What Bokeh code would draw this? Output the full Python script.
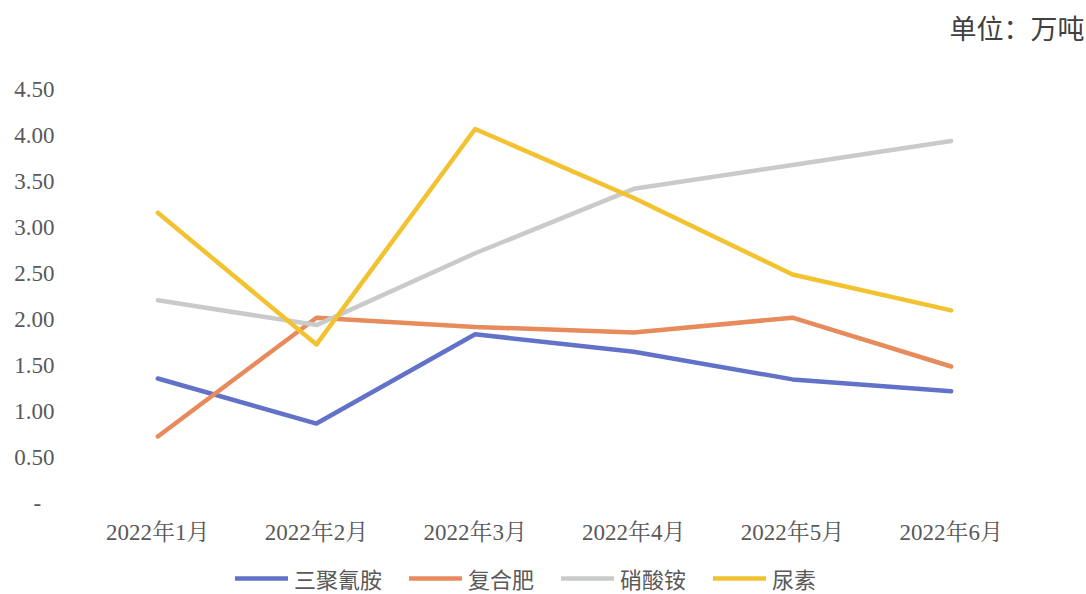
from bokeh.plotting import figure
from bokeh.models import FactorRange, Range1d, FixedTicker, Legend, LegendItem, Title
from bokeh.embed import file_html
from bokeh.resources import INLINE

months = ["2022年1月", "2022年2月", "2022年3月", "2022年4月", "2022年5月", "2022年6月"]
melamine = [1.36, 0.87, 1.84, 1.65, 1.35, 1.22]      # 三聚氰胺
compound = [0.73, 2.02, 1.92, 1.86, 2.02, 1.49]      # 复合肥
ammonium_nitrate = [2.21, 1.94, 2.72, 3.42, 3.68, 3.94]  # 硝酸铵
urea = [3.16, 1.73, 4.07, 3.32, 2.49, 2.10]          # 尿素
series_names = ["三聚氰胺", "复合肥", "硝酸铵", "尿素"]
y_ticks = [0, 0.5, 1.0, 1.5, 2.0, 2.5, 3.0, 3.5, 4.0, 4.5]
unit_text = "单位：万吨"

colors = ["#6272C8", "#E88B5C", "#C9CACA", "#F2C230"]

# frame spans from y=50px to the bottom of the canvas; 4.5 sits at 88px, 0 at 503px
px_per_unit = (503 - 88) / 4.5
y_end = 4.5 + (88 - 50) / px_per_unit
y_start = -(594 - 503) / px_per_unit

p = figure(width=1086, height=594, x_range=FactorRange(*months, range_padding=0),
           y_range=Range1d(y_start, y_end), output_backend="svg", toolbar_location=None,
           min_border_left=78, min_border_right=56, min_border_top=50, min_border_bottom=0)
p.outline_line_color = None
p.xgrid.grid_line_color = None
p.ygrid.grid_line_color = None

serif = "Liberation Serif"
for ax in (p.xaxis, p.yaxis):
    ax.axis_line_color = None
    ax.major_tick_line_color = None
    ax.minor_tick_line_color = None
    ax.major_label_text_font = serif
    ax.major_label_text_font_size = "23px"
    ax.major_label_text_color = "#595959"
p.xaxis.major_label_text_font = "Liberation Serif, Noto Serif CJK SC, Noto Sans CJK SC"
p.xaxis.major_label_standoff = 10
p.xaxis.fixed_location = 0
p.yaxis.major_label_standoff = 18
p.yaxis.ticker = FixedTicker(ticks=y_ticks)
p.yaxis.major_label_overrides = {t: ("-\u2007\u200a" if t == 0 else f"{t:.2f}") for t in y_ticks}

items = []
for name, vals, c in zip(series_names, [melamine, compound, ammonium_nitrate, urea], colors):
    r = p.line(months, vals, line_color=c, line_width=4.5, line_join="round", line_cap="round")
    items.append(LegendItem(label=name, renderers=[r]))

legend = Legend(items=items, orientation="horizontal", location=(157, 0),
                border_line_color=None, background_fill_alpha=0, padding=0, margin=0,
                glyph_width=53, glyph_height=26, label_standoff=6, spacing=27,
                label_text_font="Noto Sans CJK SC", label_text_font_size="22px",
                label_text_color="#595959", label_height=26)
p.add_layout(legend, "center")

t = Title(text=unit_text, align="right", offset=-54, standoff=10,
          text_font="Noto Sans CJK SC", text_font_size="27px", text_font_style="normal",
          text_color="#404040")
p.add_layout(t, "above")

open("out.html", "w").write(file_html(p, INLINE))
